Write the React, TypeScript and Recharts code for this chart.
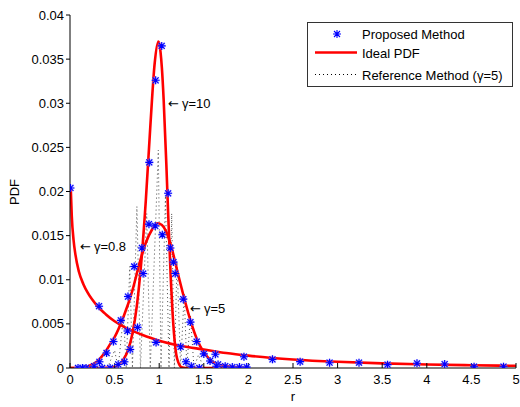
import React from 'react';
import { ComposedChart, Line, XAxis, YAxis, ReferenceDot, Legend } from 'recharts';

const FONT = '"Liberation Sans", Arial, Helvetica, sans-serif';

const xTicks = [0, 0.5, 1, 1.5, 2, 2.5, 3, 3.5, 4, 4.5, 5];
const yTicks = [0, 0.005, 0.01, 0.015, 0.02, 0.025, 0.03, 0.035, 0.04];

// Ideal PDF curves (red)
const idealG08 = [
  { x: 0.008, y: 0.0205 }, { x: 0.02, y: 0.0172 }, { x: 0.04, y: 0.0145 }, { x: 0.06, y: 0.0129 },
  { x: 0.1, y: 0.0109 }, { x: 0.15, y: 0.0095 }, { x: 0.2, y: 0.0085 }, { x: 0.3, y: 0.0071 },
  { x: 0.4, y: 0.0061 }, { x: 0.5, y: 0.0053 }, { x: 0.6, y: 0.0047 }, { x: 0.7, y: 0.0042 },
  { x: 0.8, y: 0.0038 }, { x: 1.0, y: 0.0031 }, { x: 1.25, y: 0.0025 }, { x: 1.5, y: 0.0021 },
  { x: 1.75, y: 0.0017 }, { x: 2.0, y: 0.0014 }, { x: 2.5, y: 0.00097 }, { x: 3.0, y: 0.0007 },
  { x: 3.5, y: 0.00052 }, { x: 4.0, y: 0.0004 }, { x: 4.5, y: 0.00031 }, { x: 5.0, y: 0.00025 },
];

const idealG5 = [
  { x: 0, y: 0 }, { x: 0.1, y: 0 }, { x: 0.2, y: 0.0002 }, { x: 0.3, y: 0.0007 }, { x: 0.4, y: 0.0019 },
  { x: 0.45, y: 0.0027 }, { x: 0.5, y: 0.0035 }, { x: 0.6, y: 0.0058 }, { x: 0.7, y: 0.0088 },
  { x: 0.78, y: 0.0119 }, { x: 0.85, y: 0.0142 }, { x: 0.92, y: 0.0157 }, { x: 0.98, y: 0.0164 },
  { x: 1.03, y: 0.0162 }, { x: 1.08, y: 0.0154 }, { x: 1.14, y: 0.0136 }, { x: 1.2, y: 0.0111 },
  { x: 1.27, y: 0.0083 }, { x: 1.35, y: 0.0054 }, { x: 1.43, y: 0.0031 }, { x: 1.5, y: 0.0018 },
  { x: 1.6, y: 0.0007 }, { x: 1.7, y: 0.0003 }, { x: 1.85, y: 0.0001 }, { x: 2.0, y: 0 },
];

const idealG10 = [
  { x: 0, y: 0 }, { x: 0.3, y: 0 }, { x: 0.5, y: 0.0001 }, { x: 0.6, y: 0.001 }, { x: 0.65, y: 0.002 },
  { x: 0.7, y: 0.0039 }, { x: 0.75, y: 0.0071 }, { x: 0.8, y: 0.0121 }, { x: 0.85, y: 0.019 },
  { x: 0.9, y: 0.0273 }, { x: 0.95, y: 0.0346 }, { x: 0.99, y: 0.037 }, { x: 1.0, y: 0.0368 },
  { x: 1.03, y: 0.034 }, { x: 1.05, y: 0.0304 }, { x: 1.08, y: 0.0231 }, { x: 1.1, y: 0.0176 },
  { x: 1.13, y: 0.0101 }, { x: 1.15, y: 0.0062 }, { x: 1.18, y: 0.0024 }, { x: 1.2, y: 0.0011 },
  { x: 1.25, y: 0.0001 }, { x: 1.3, y: 0 }, { x: 2.0, y: 0 },
];

// Proposed method (blue stars)
const starsG08 = [
  { x: 0.005, y: 0.0204 }, { x: 0.326, y: 0.007 }, { x: 0.645, y: 0.0042 }, { x: 0.965, y: 0.0029 },
  { x: 1.24, y: 0.0024 }, { x: 1.63, y: 0.00155 }, { x: 1.95, y: 0.00128 }, { x: 2.27, y: 0.00098 },
  { x: 2.58, y: 0.00072 }, { x: 2.91, y: 0.0006 }, { x: 3.24, y: 0.0006 }, { x: 3.56, y: 0.00038 },
  { x: 3.89, y: 0.00053 }, { x: 4.2, y: 0.00045 }, { x: 4.53, y: 0.00015 }, { x: 4.86, y: 0.00015 },
];

const starsG5 = [
  { x: 0.09, y: 0 }, { x: 0.18, y: 0 }, { x: 0.27, y: 0.0002 }, { x: 0.33, y: 0.0007 },
  { x: 0.41, y: 0.0017 }, { x: 0.487, y: 0.003 }, { x: 0.57, y: 0.0054 }, { x: 0.65, y: 0.0081 },
  { x: 0.72, y: 0.0115 }, { x: 0.806, y: 0.0136 }, { x: 0.885, y: 0.0163 }, { x: 0.955, y: 0.0161 },
  { x: 1.035, y: 0.0151 }, { x: 1.125, y: 0.0136 }, { x: 1.16, y: 0.012 }, { x: 1.18, y: 0.0107 },
  { x: 1.27, y: 0.0078 }, { x: 1.35, y: 0.0052 }, { x: 1.42, y: 0.003 }, { x: 1.5, y: 0.0016 },
  { x: 1.57, y: 0.0008 }, { x: 1.66, y: 0.0004 }, { x: 1.74, y: 0.0002 }, { x: 1.82, y: 0.0001 },
  { x: 1.9, y: 0.0001 }, { x: 1.98, y: 0.0001 },
];

const starsG10 = [
  { x: 0.14, y: 0 }, { x: 0.36, y: 0 }, { x: 0.45, y: 0 }, { x: 0.54, y: 0.0004 },
  { x: 0.61, y: 0.0007 }, { x: 0.675, y: 0.0021 }, { x: 0.757, y: 0.0046 }, { x: 0.82, y: 0.0107 },
  { x: 0.889, y: 0.0233 }, { x: 0.96, y: 0.0326 }, { x: 1.028, y: 0.0365 }, { x: 1.1, y: 0.0198 },
  { x: 1.3, y: 0.0007 }, { x: 1.36, y: 0.0002 }, { x: 1.45, y: 0 }, { x: 1.64, y: 0.0002 },
];

// Reference method (gamma = 5), dotted
const refG5 = [
  { x: 0.42, y: 0 }, { x: 0.5, y: 0.002 }, { x: 0.54, y: 0 }, { x: 0.6, y: 0.006 },
  { x: 0.63, y: 0 }, { x: 0.67, y: 0.0115 }, { x: 0.7, y: 0 }, { x: 0.75, y: 0.0183 },
  { x: 0.79, y: 0 }, { x: 0.86, y: 0.0175 }, { x: 0.9, y: 0 }, { x: 0.99, y: 0.0247 },
  { x: 1.02, y: 0 }, { x: 1.07, y: 0.0195 }, { x: 1.11, y: 0 }, { x: 1.14, y: 0.0175 },
  { x: 1.17, y: 0 }, { x: 1.2, y: 0.012 }, { x: 1.24, y: 0 }, { x: 1.28, y: 0.0085 },
  { x: 1.31, y: 0 }, { x: 1.35, y: 0.006 }, { x: 1.39, y: 0 }, { x: 1.44, y: 0.0015 },
  { x: 1.5, y: 0 },
];

const notes = [
  { x: 1.1, y: 0.030, text: '\u03b3=10' },
  { x: 0.112, y: 0.0138, text: '\u03b3=0.8' },
  { x: 1.345, y: 0.0068, text: '\u03b3=5' },
];

const starPath = (cx: number, cy: number) =>
  `M${cx - 4},${cy}H${cx + 4}M${cx},${cy - 4}V${cy + 4}M${cx - 3},${cy - 3}L${cx + 3},${cy + 3}M${cx - 3},${cy + 3}L${cx + 3},${cy - 3}`;

const Star = (props: any) => {
  const { cx, cy, index } = props;
  if (cx == null || cy == null) return <g key={`e-${index}`} />;
  return (
    <g key={`s-${index}-${cx}`}>
      <path d={starPath(cx, cy)} stroke="#9a9aff" strokeWidth={2.2} fill="none" opacity={0.5} />
      <path d={starPath(cx, cy)} stroke="#0000ff" strokeWidth={1.1} fill="none" />
    </g>
  );
};

const LegendBox = () => (
  <svg width={207} height={66} style={{ display: 'block' }}>
    <rect x={0.5} y={0.5} width={205} height={64} fill="#fff" stroke="#333" strokeWidth={1} />
    <path d={starPath(30, 12)} stroke="#0000ff" strokeWidth={1.1} fill="none" />
    <text x={55} y={12} dy="0.35em" fontSize={13} fontFamily={FONT} fill="#000">Proposed Method</text>
    <line x1={8} x2={50} y1={30.5} y2={30.5} stroke="#ff0000" strokeWidth={2.5} />
    <text x={55} y={31} dy="0.35em" fontSize={13} fontFamily={FONT} fill="#000">Ideal PDF</text>
    <line x1={8} x2={51} y1={52.5} y2={52.5} stroke="#000" strokeWidth={1} strokeDasharray="1 3" />
    <text x={55} y={53} dy="0.35em" fontSize={13} fontFamily={FONT} fill="#000">{'Reference Method (\u03b3=5)'}</text>
  </svg>
);

const noteShape = (text: string) => (props: any) => (
  <text x={props.cx} y={props.cy} dy="0.35em" fontSize={13} fontFamily={FONT} fill="#000">
    <tspan fontFamily='"DejaVu Sans", sans-serif' fontSize={13}>{'\u2190'}</tspan>
    <tspan dx={3}>{text}</tspan>
  </text>
);

export default function App() {
  const tickStyle = { fontSize: 13, fontFamily: FONT, fill: '#000' };
  return (
    <div style={{ position: 'absolute', left: 0, top: 0, width: 520, height: 407, background: '#fff' }}>
      <ComposedChart width={520} height={407} margin={{ top: 15, right: 4, bottom: 0, left: 0 }}>
        <XAxis
          type="number"
          dataKey="x"
          domain={[0, 5]}
          ticks={xTicks}
          allowDataOverflow
          height={39}
          tickSize={-5}
          tickMargin={12}
          tick={tickStyle}
          axisLine={{ stroke: '#000' }}
          tickLine={{ stroke: '#000' }}
          label={{ value: 'r', position: 'insideBottom', offset: 6, fontSize: 13, fontFamily: FONT, fill: '#000' }}
        />
        <YAxis
          type="number"
          domain={[0, 0.04]}
          ticks={yTicks}
          allowDataOverflow
          width={70}
          tickSize={4}
          tickMargin={2}
          tick={tickStyle}
          axisLine={{ stroke: '#000' }}
          tickLine={{ stroke: '#000' }}
          label={{
            content: () => (
              <text x={19} y={192} transform="rotate(-90 19 192)" textAnchor="middle" fontSize={13} fontFamily={FONT} fill="#000">PDF</text>
            ),
          }}
        />
        <Legend verticalAlign="middle" align="center" layout="horizontal" content={LegendBox}
          wrapperStyle={{ left: 307, top: 22, width: 207, height: 66, margin: 0, padding: 0 }} />
        <Line data={refG5} dataKey="y" type="linear" stroke="#444" strokeWidth={1} strokeDasharray="1 3" dot={false} activeDot={false} isAnimationActive={false} />
        <Line data={idealG08} dataKey="y" type="monotone" stroke="#ff0000" strokeWidth={2.6} dot={false} activeDot={false} isAnimationActive={false} />
        <Line data={idealG5} dataKey="y" type="monotone" stroke="#ff0000" strokeWidth={2.6} dot={false} activeDot={false} isAnimationActive={false} />
        <Line data={idealG10} dataKey="y" type="monotone" stroke="#ff0000" strokeWidth={2.6} dot={false} activeDot={false} isAnimationActive={false} />
        <Line data={starsG08} dataKey="y" stroke="none" dot={Star} activeDot={false} isAnimationActive={false} />
        <Line data={starsG5} dataKey="y" stroke="none" dot={Star} activeDot={false} isAnimationActive={false} />
        <Line data={starsG10} dataKey="y" stroke="none" dot={Star} activeDot={false} isAnimationActive={false} />
        {notes.map((n) => (
          <ReferenceDot key={n.text} x={n.x} y={n.y} r={0} shape={noteShape(n.text)} />
        ))}
      </ComposedChart>
    </div>
  );
}
